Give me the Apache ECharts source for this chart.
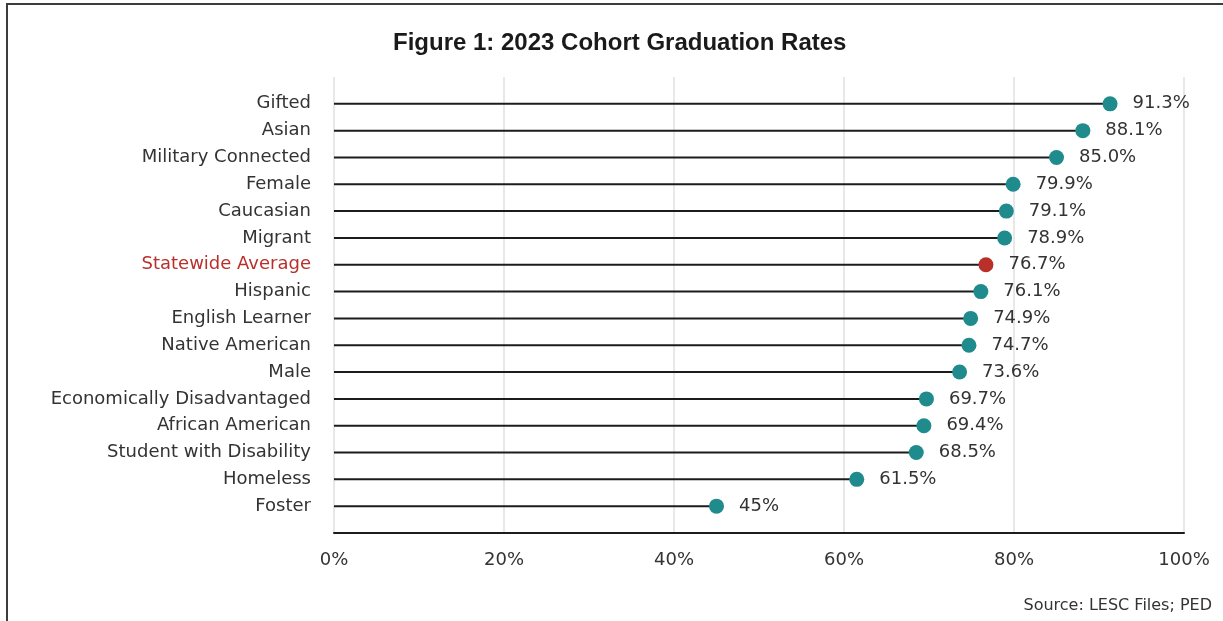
<!DOCTYPE html>
<html>
<head>
<meta charset="utf-8">
<script src="https://cdn.jsdelivr.net/npm/echarts@6/dist/echarts.min.js"></script>
<style>
  html, body { margin: 0; padding: 0; background: #ffffff; }
  #chart { width: 1223px; height: 621px; }
</style>
</head>
<body>
<div id="chart"></div>
<script>
// Student groups, top to bottom
const groups = [
  'Gifted', 'Asian', 'Military Connected', 'Female', 'Caucasian', 'Migrant',
  'Statewide Average', 'Hispanic', 'English Learner', 'Native American', 'Male',
  'Economically Disadvantaged', 'African American', 'Student with Disability',
  'Homeless', 'Foster'
];
// 2023 cohort graduation rate (%), written as printed
const rates = [
  '91.3', '88.1', '85.0', '79.9', '79.1', '78.9',
  '76.7', '76.1', '74.9', '74.7', '73.6',
  '69.7', '69.4', '68.5',
  '61.5', '45'
];
const xTicks = [0, 20, 40, 60, 80, 100];
const highlightGroup = 'Statewide Average';

const TEAL = '#1f8b8d';
const RED = '#b9302a';
const TEXT = '#333333';
const FONT = '"DejaVu Sans", "Liberation Sans", Arial, sans-serif';
const TITLE_FONT = '"Liberation Sans", Arial, sans-serif';

// pad the category axis with a blank slot at each end
const cats = [''].concat(groups, ['']);
const stems = ['-'].concat(rates.map(Number), ['-']);
const dots = [{ value: '-' }].concat(rates.map((r, i) => ({
  value: Number(r),
  label: { formatter: r + '%' },
  itemStyle: { color: groups[i] === highlightGroup ? RED : TEAL, opacity: 1 }
})), [{ value: '-' }]);

const chart = echarts.init(document.getElementById('chart'), null, { renderer: 'canvas' });
chart.setOption({
  backgroundColor: '#ffffff',
  animation: false,
  title: [
    {
      text: 'Figure 1: 2023 Cohort Graduation Rates',
      left: 388, top: 26,
      textStyle: { fontFamily: TITLE_FONT, fontSize: 24, fontWeight: 'bold', color: '#1a1a1a' }
    },
    {
      text: 'Source: LESC Files; PED',
      right: 6, top: 593,
      textStyle: { fontFamily: FONT, fontSize: 16, fontWeight: 'normal', color: TEXT }
    }
  ],
  graphic: [
    {
      type: 'rect', silent: true,
      shape: { x: 7, y: 4, width: 1240, height: 640 },
      style: { fill: 'none', stroke: '#3c3c3c', lineWidth: 2 }
    }
  ],
  grid: { left: 334, right: 39, top: 77, bottom: 88, containLabel: false },
  xAxis: {
    type: 'value', min: xTicks[0], max: xTicks[xTicks.length - 1], interval: 20,
    axisLine: { show: true, lineStyle: { color: '#1c1c1c', width: 2 } },
    axisTick: { show: false },
    splitLine: { show: true, lineStyle: { color: '#e8e8e8', width: 2 } },
    axisLabel: {
      formatter: '{value}%', margin: 18,
      fontFamily: FONT, fontSize: 18, color: TEXT
    }
  },
  yAxis: {
    type: 'category', data: cats, inverse: true, boundaryGap: false,
    axisLine: { show: false }, axisTick: { show: false }, splitLine: { show: false },
    axisLabel: {
      margin: 23, fontFamily: FONT, fontSize: 18, color: TEXT, interval: 0,
      formatter: (v) => v === highlightGroup ? '{hl|' + v + '}' : v,
      rich: { hl: { color: RED, fontFamily: FONT, fontSize: 18 } }
    }
  },
  series: [
    {
      type: 'bar', data: stems, barWidth: 2, silent: true, z: 2,
      itemStyle: { color: '#1c1c1c' }
    },
    {
      type: 'scatter', data: dots, symbolSize: 15, z: 5,
      itemStyle: { opacity: 1 },
      label: {
        show: true, position: 'right', distance: 15,
        fontFamily: FONT, fontSize: 18, color: TEXT
      }
    }
  ]
});
</script>
</body>
</html>
